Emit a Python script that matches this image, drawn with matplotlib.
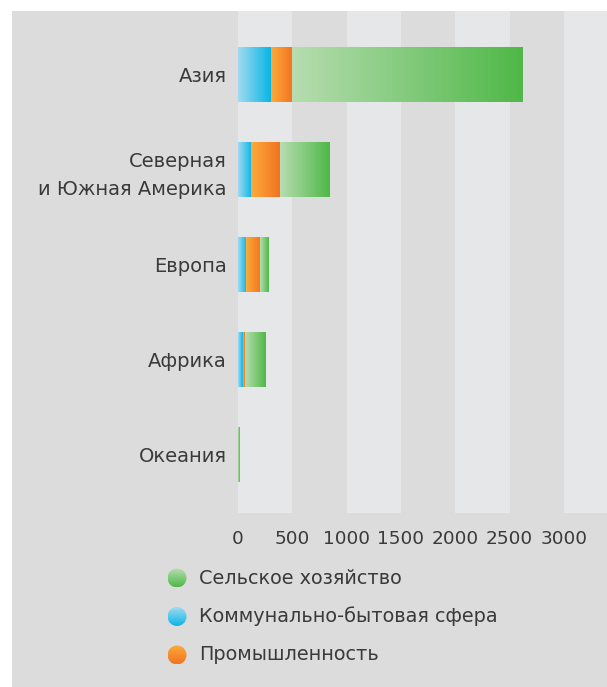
import numpy as np
import matplotlib
matplotlib.use("Agg")
import matplotlib.pyplot as plt
from matplotlib.colors import LinearSegmentedColormap
from matplotlib.patches import Rectangle, Circle

plt.rcParams['font.family'] = ['DejaVu Sans']

# ---- data ----
regions = ['Азия', 'Северная\nи Южная Америка', 'Европа', 'Африка', 'Океания']
domestic = [300, 120, 75, 45, 2]        # Коммунально-бытовая сфера
industry = [200, 265, 130, 18, 1]       # Промышленность
agriculture = [2120, 460, 75, 185, 17]  # Сельское хозяйство
xticks = [0, 500, 1000, 1500, 2000, 2500, 3000]
legend_labels = ['Сельское хозяйство', 'Коммунально-бытовая сфера', 'Промышленность']

# ---- style ----
W, H = 607, 687
DPI = 100
panel = '#dcdcdc'
band = '#e6e7e8'
txt = '#3a3a3a'
cmaps = {
    'blue': LinearSegmentedColormap.from_list('b', ['#a2daf1', '#08b6e6']),
    'orange': LinearSegmentedColormap.from_list('o', ['#fbab3b', '#f37321']),
    'green': LinearSegmentedColormap.from_list('g', ['#b7ddb1', '#4fb847']),
}

fig = plt.figure(figsize=(W / DPI, H / DPI), dpi=DPI, facecolor='white')
fig.add_artist(Rectangle((12 / W, 0), (W - 12) / W, (H - 11) / H,
                         transform=fig.transFigure, facecolor=panel,
                         edgecolor='none', zorder=-5))

ax_l, ax_r, ax_t, ax_b = 238, 607.3, 11, 513
ax = fig.add_axes([ax_l / W, 1 - ax_b / H, (ax_r - ax_l) / W, (ax_b - ax_t) / H])
ax.set_facecolor(panel)
xmax = 3400
# alternating bands
for i, x0 in enumerate(np.arange(0, xmax, 500)):
    if i % 2 == 0:
        ax.axvspan(x0, min(x0 + 500, xmax), color=band, lw=0, zorder=0)

y = np.arange(len(regions))
bh = 0.57
grad = np.linspace(0, 1, 256).reshape(1, -1)
left = np.zeros(len(regions))
for vals, cm in [(domestic, 'blue'), (industry, 'orange'), (agriculture, 'green')]:
    bars = ax.barh(y, vals, left=left, height=bh, color='none', lw=0, zorder=2)
    for p in bars.patches:
        x0, y0 = p.get_x(), p.get_y()
        w, h = p.get_width(), p.get_height()
        if w <= 0:
            continue
        im = ax.imshow(grad, extent=[x0, x0 + w, y0 + h, y0], aspect='auto',
                       cmap=cmaps[cm], interpolation='bilinear', zorder=2)
        im.set_clip_path(p)
    left = left + np.array(vals)

first_c, step = 74.5, 95.0
ax.set_xlim(0, xmax)
ax.set_ylim((ax_b - first_c) / step, (ax_t - first_c) / step)
ax.set_yticks(y)
ax.set_yticklabels(regions, fontsize=14, color=txt, linespacing=1.6)
ax.set_xticks(xticks)
ax.set_xticklabels([str(v) for v in xticks], fontsize=13.3, color=txt)
ax.tick_params(axis='y', length=0, pad=8)
ax.tick_params(axis='x', length=0, pad=12)
for s in ax.spines.values():
    s.set_visible(False)

# ---- legend ----
lax = fig.add_axes([0, 0, 1, 1], zorder=3)
lax.set_xlim(0, W)
lax.set_ylim(H, 0)
lax.axis('off')
lax.patch.set_alpha(0)
vgrad = np.linspace(0, 1, 64).reshape(-1, 1)
leg_cm = ['green', 'blue', 'orange']
for i, (lab, cm) in enumerate(zip(legend_labels, leg_cm)):
    cy = 578 + i * 38.5
    cx, r = 177, 9.5
    c = Circle((cx, cy), r, facecolor='none', edgecolor='none')
    lax.add_patch(c)
    im = lax.imshow(vgrad, extent=[cx - r, cx + r, cy + r, cy - r], aspect='auto',
                    cmap=cmaps[cm], interpolation='bilinear')
    im.set_clip_path(c)
    lax.text(199, cy, lab, fontsize=13.9, color=txt, va='center', ha='left')
lax.set_xlim(0, W)
lax.set_ylim(H, 0)

fig.savefig('out.png', dpi=DPI, facecolor='white')
